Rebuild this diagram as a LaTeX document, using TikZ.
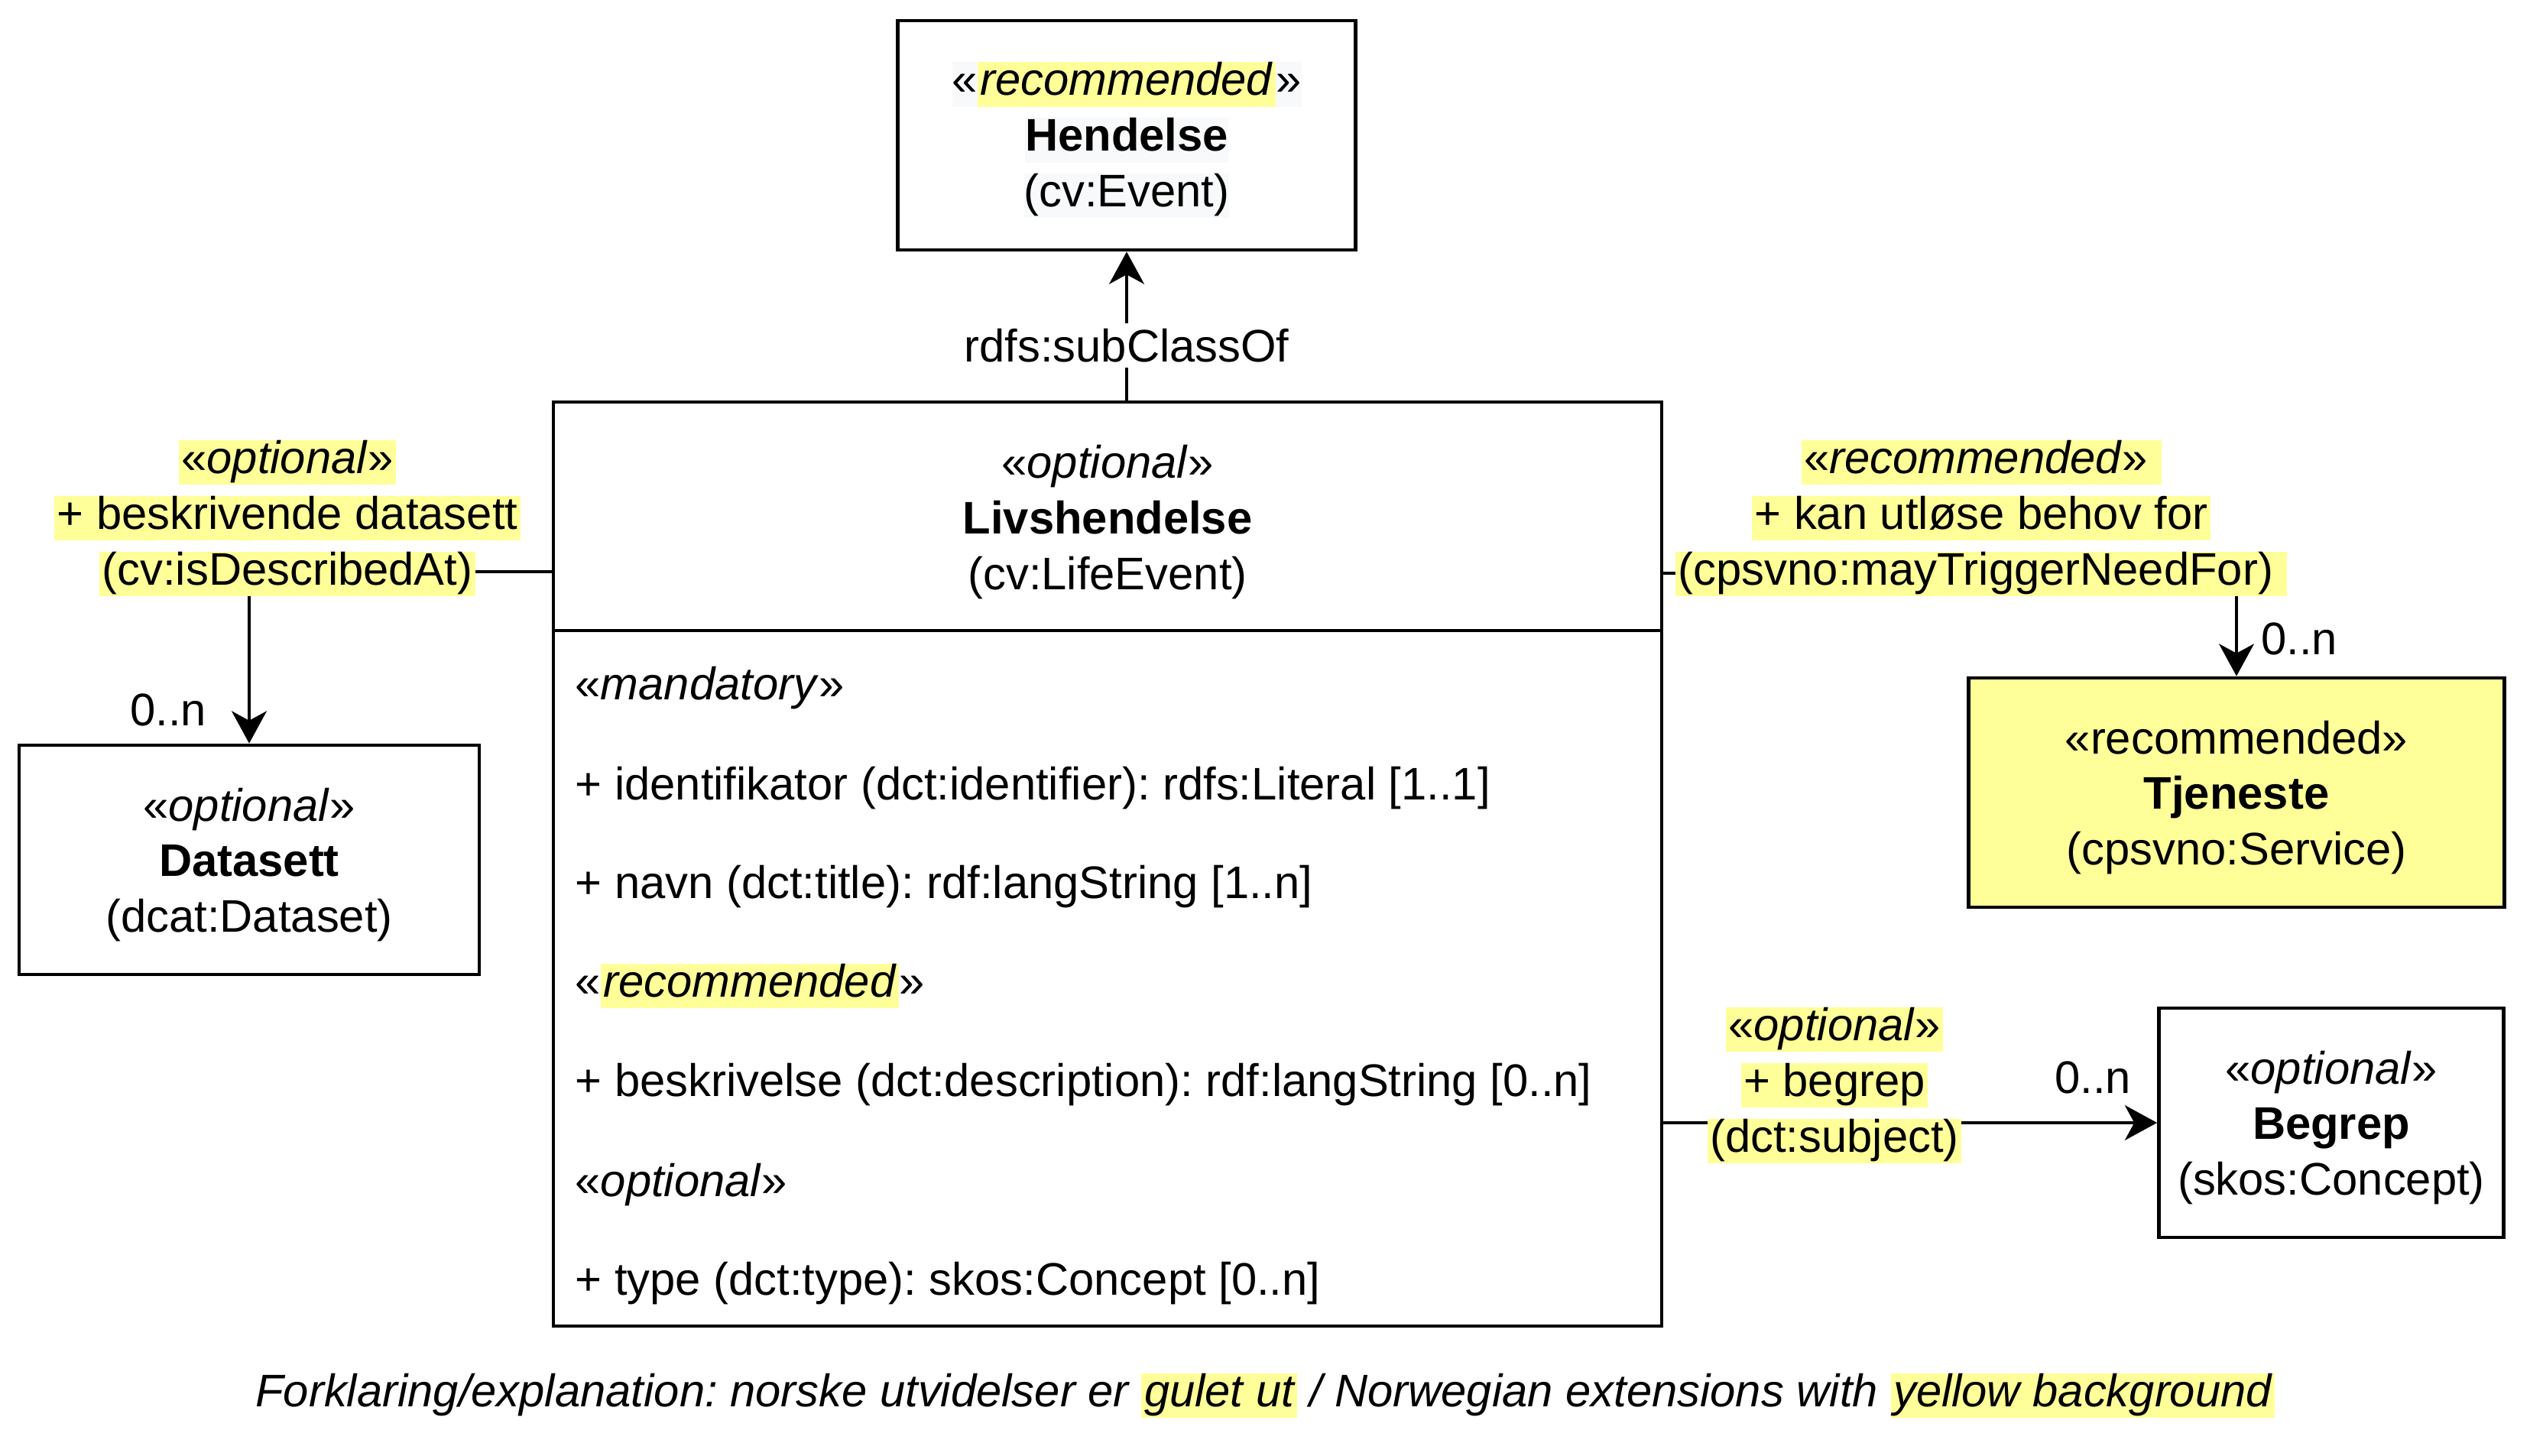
\documentclass[tikz,border=0pt]{standalone}
\usepackage{fontspec}
\setmainfont{Liberation Sans}
\usetikzlibrary{arrows.meta}
\frenchspacing
\definecolor{hlyellow}{HTML}{FFFF99}
\definecolor{faintbg}{HTML}{F8F9FA}
\newcommand{\hl}[1]{{\setlength{\fboxsep}{0pt}\colorbox{hlyellow}{\rule[-4.2pt]{0pt}{16.6pt}\kern1pt#1\kern1pt}}}
\newcommand{\fb}[1]{{\setlength{\fboxsep}{0pt}\colorbox{faintbg}{\rule[-4.2pt]{0pt}{16.6pt}#1}}}
\newcommand{\topstrut}{\rule{0pt}{16pt}}

\begin{document}
\begin{tikzpicture}[x=1cm, y=-1cm, font=\fontsize{17}{20.7}\selectfont]
    \tikzset{
        boxline/.style={draw=black, line width=1.35pt},
        classbox/.style={boxline, minimum height=3cm, inner sep=0pt, align=center},
        assoc/.style={-{Stealth[length=12pt, width=13pt, inset=3.5pt]}, line width=1.35pt},
        rolelabel/.style={inner sep=0pt, align=center},
        whitelabel/.style={fill=white, inner sep=2pt},
        attr/.style={anchor=west, inner sep=0pt}
    }
    \useasboundingbox (0,0) rectangle (33.10,19.05);

    \node[classbox, minimum width=5.99cm] (hendelse) at (14.74,1.77)
        {\topstrut\fb{«\hl{\textit{recommended}}»}\\\fb{\textbf{Hendelse}}\\\fb{(cv:Event)}};

    \node[boxline, minimum width=14.50cm, minimum height=12.09cm, inner sep=0pt] (liv) at (14.49,11.305) {};
    \draw[boxline] (liv.west |- 0,8.25) -- (liv.east |- 0,8.25);
    \node[align=center] (livhead) at (14.49,6.83) {«\textit{optional}»\\\textbf{Livshendelse}\\(cv:LifeEvent)};
    \node[attr] (mandatory) at (7.52,9.00) {«\textit{mandatory}»};
    \node[attr] (identifikator) at (7.52,10.31) {+ identifikator (dct:identifier): rdfs:Literal [1..1]};
    \node[attr] (navn) at (7.52,11.60) {+ navn (dct:title): rdf:langString [1..n]};
    \node[attr] (recommended) at (7.52,12.90) {«\hl{\textit{recommended}}»};
    \node[attr] (beskrivelse) at (7.52,14.19) {+ beskrivelse (dct:description): rdf:langString [0..n]};
    \node[attr] (optional) at (7.52,15.50) {«\textit{optional}»};
    \node[attr] (type) at (7.52,16.79) {+ type (dct:type): skos:Concept [0..n]};

    \node[classbox, minimum width=6.02cm] (datasett) at (3.26,11.25)
        {\topstrut«\textit{optional}»\\\textbf{Datasett}\\(dcat:Dataset)};
    \node[classbox, minimum width=7.01cm, fill=hlyellow] (tjeneste) at (29.26,10.37)
        {\topstrut«recommended»\\\textbf{Tjeneste}\\(cpsvno:Service)};
    \node[classbox, minimum width=4.51cm] (begrep) at (30.50,14.69)
        {\topstrut«\textit{optional}»\\\textbf{Begrep}\\(skos:Concept)};

    \draw[assoc] (liv.north -| hendelse.south) -- (hendelse.south);
    \node[whitelabel] (subclass) at (14.74,4.52) {rdfs:subClassOf};

    \draw[assoc] (liv.west |- 0,7.48) -| (datasett.north);
    \node[rolelabel] (describedat) at (3.76,6.78)
        {\hl{«\textit{optional}»}\\\hl{+ beskrivende datasett}\\\hl{(cv:isDescribedAt)}};
    \node (dsmult) at (2.20,9.29) {0..n};

    \draw[assoc] (liv.east |- 0,7.50) -| (tjeneste.north);
    \node[rolelabel] (triggerneed) at (25.92,6.78)
        {\hl{«\textit{recommended}»\kern4pt}\\\hl{+ kan utløse behov for}\\\hl{(cpsvno:mayTriggerNeedFor)\kern4pt}};
    \node (tjmult) at (30.08,8.36) {0..n};

    \draw[assoc] (liv.east |- begrep.west) -- (begrep.west);
    \node[rolelabel] (subject) at (24.00,14.20)
        {\hl{«\textit{optional}»}\\\hl{+ begrep}\\\hl{(dct:subject)}};
    \node (bgmult) at (27.38,14.10) {0..n};

    \node (caption) at (16.55,18.26) {\itshape Forklaring/explanation: norske utvidelser er \hl{gulet ut} / Norwegian extensions with \hl{yellow background}};
\end{tikzpicture}
\end{document}
